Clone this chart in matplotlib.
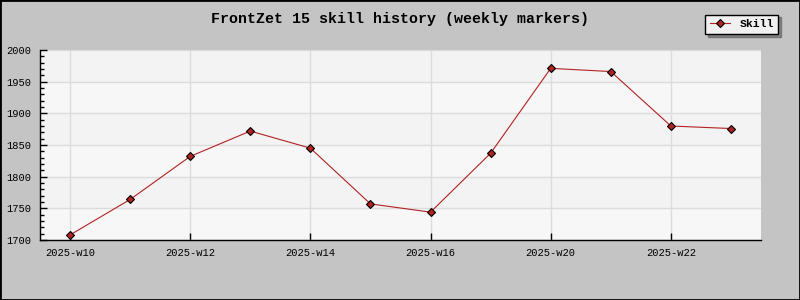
import numpy as np
import matplotlib
matplotlib.use("Agg")
import matplotlib.pyplot as plt
from matplotlib.patches import Rectangle

weeks = ["2025-w10", "2025-w11", "2025-w12", "2025-w13", "2025-w14", "2025-w15",
         "2025-w16", "2025-w18", "2025-w20", "2025-w21", "2025-w22", "2025-w23"]
skill = [1708, 1764, 1832, 1872, 1845, 1757, 1744, 1837, 1971, 1966, 1880, 1876]
shown_labels = ["2025-w10", "2025-w12", "2025-w14", "2025-w16", "2025-w20", "2025-w22"]

mono = "Liberation Mono"

fig = plt.figure(figsize=(8, 3), dpi=100, facecolor="#c4c4c4")
ax = fig.add_axes([40 / 800, 60 / 300, 721 / 800, 190 / 300])
ax.set_facecolor("#f7f7f7")

x = np.arange(len(weeks))
ax.set_xlim(-0.5, len(weeks) - 0.5)
ax.set_ylim(1700, 2000)

# alternating bands between grid lines
yt = np.arange(1700, 2001, 50)
for i in range(len(yt) - 1):
    if (len(yt) - 2 - i) % 2 == 0:
        ax.axhspan(yt[i], yt[i + 1], color="#f3f3f3", zorder=0, lw=0)

ax.plot(x, skill, color="#b22222", lw=0.8, marker="D", markersize=4.2,
        markerfacecolor="#b22222", markeredgecolor="black", markeredgewidth=0.8,
        label="Skill", zorder=3)

tick_pos = [weeks.index(w) for w in shown_labels]
ax.set_xticks(tick_pos)
ax.set_xticklabels(shown_labels, family=mono, fontsize=7.5)
ax.set_yticks(yt)
ax.set_yticklabels([str(v) for v in yt], family=mono, fontsize=7.5)
ax.set_yticks(np.arange(1700, 2001, 10), minor=True)
ax.tick_params(axis="both", direction="in", length=5, width=1, color="black")
ax.tick_params(axis="y", which="minor", direction="in", length=3, width=1)
ax.tick_params(axis="x", pad=6)
ax.tick_params(axis="y", pad=6)
ax.grid(True, which="major", color="#dcdcdc", lw=1, zorder=1)
ax.set_axisbelow(True)

for s in ["top", "right"]:
    ax.spines[s].set_visible(False)
ax.spines["left"].set_linewidth(1)
ax.spines["bottom"].set_linewidth(1)

fig.text(0.5, 1 - 19 / 300, "FrontZet 15 skill history (weekly markers)",
         ha="center", va="center", family=mono, fontsize=10.8, fontweight="bold")

leg = fig.legend(loc="upper right", bbox_to_anchor=(784 / 800, 1 - 9 / 300),
                 prop={"family": mono, "weight": "bold", "size": 8.2},
                 frameon=True, fancybox=False, shadow=True, handlelength=1.8,
                 borderpad=0.4, handletextpad=0.8)
leg.get_frame().set_edgecolor("black")
leg.get_frame().set_facecolor("#f0f0f0")
leg.get_frame().set_linewidth(1)

fig.patches.append(Rectangle((0, 0), 1, 1, transform=fig.transFigure,
                             fill=False, edgecolor="black", lw=2))

fig.savefig("out.png", dpi=100, facecolor=fig.get_facecolor())
